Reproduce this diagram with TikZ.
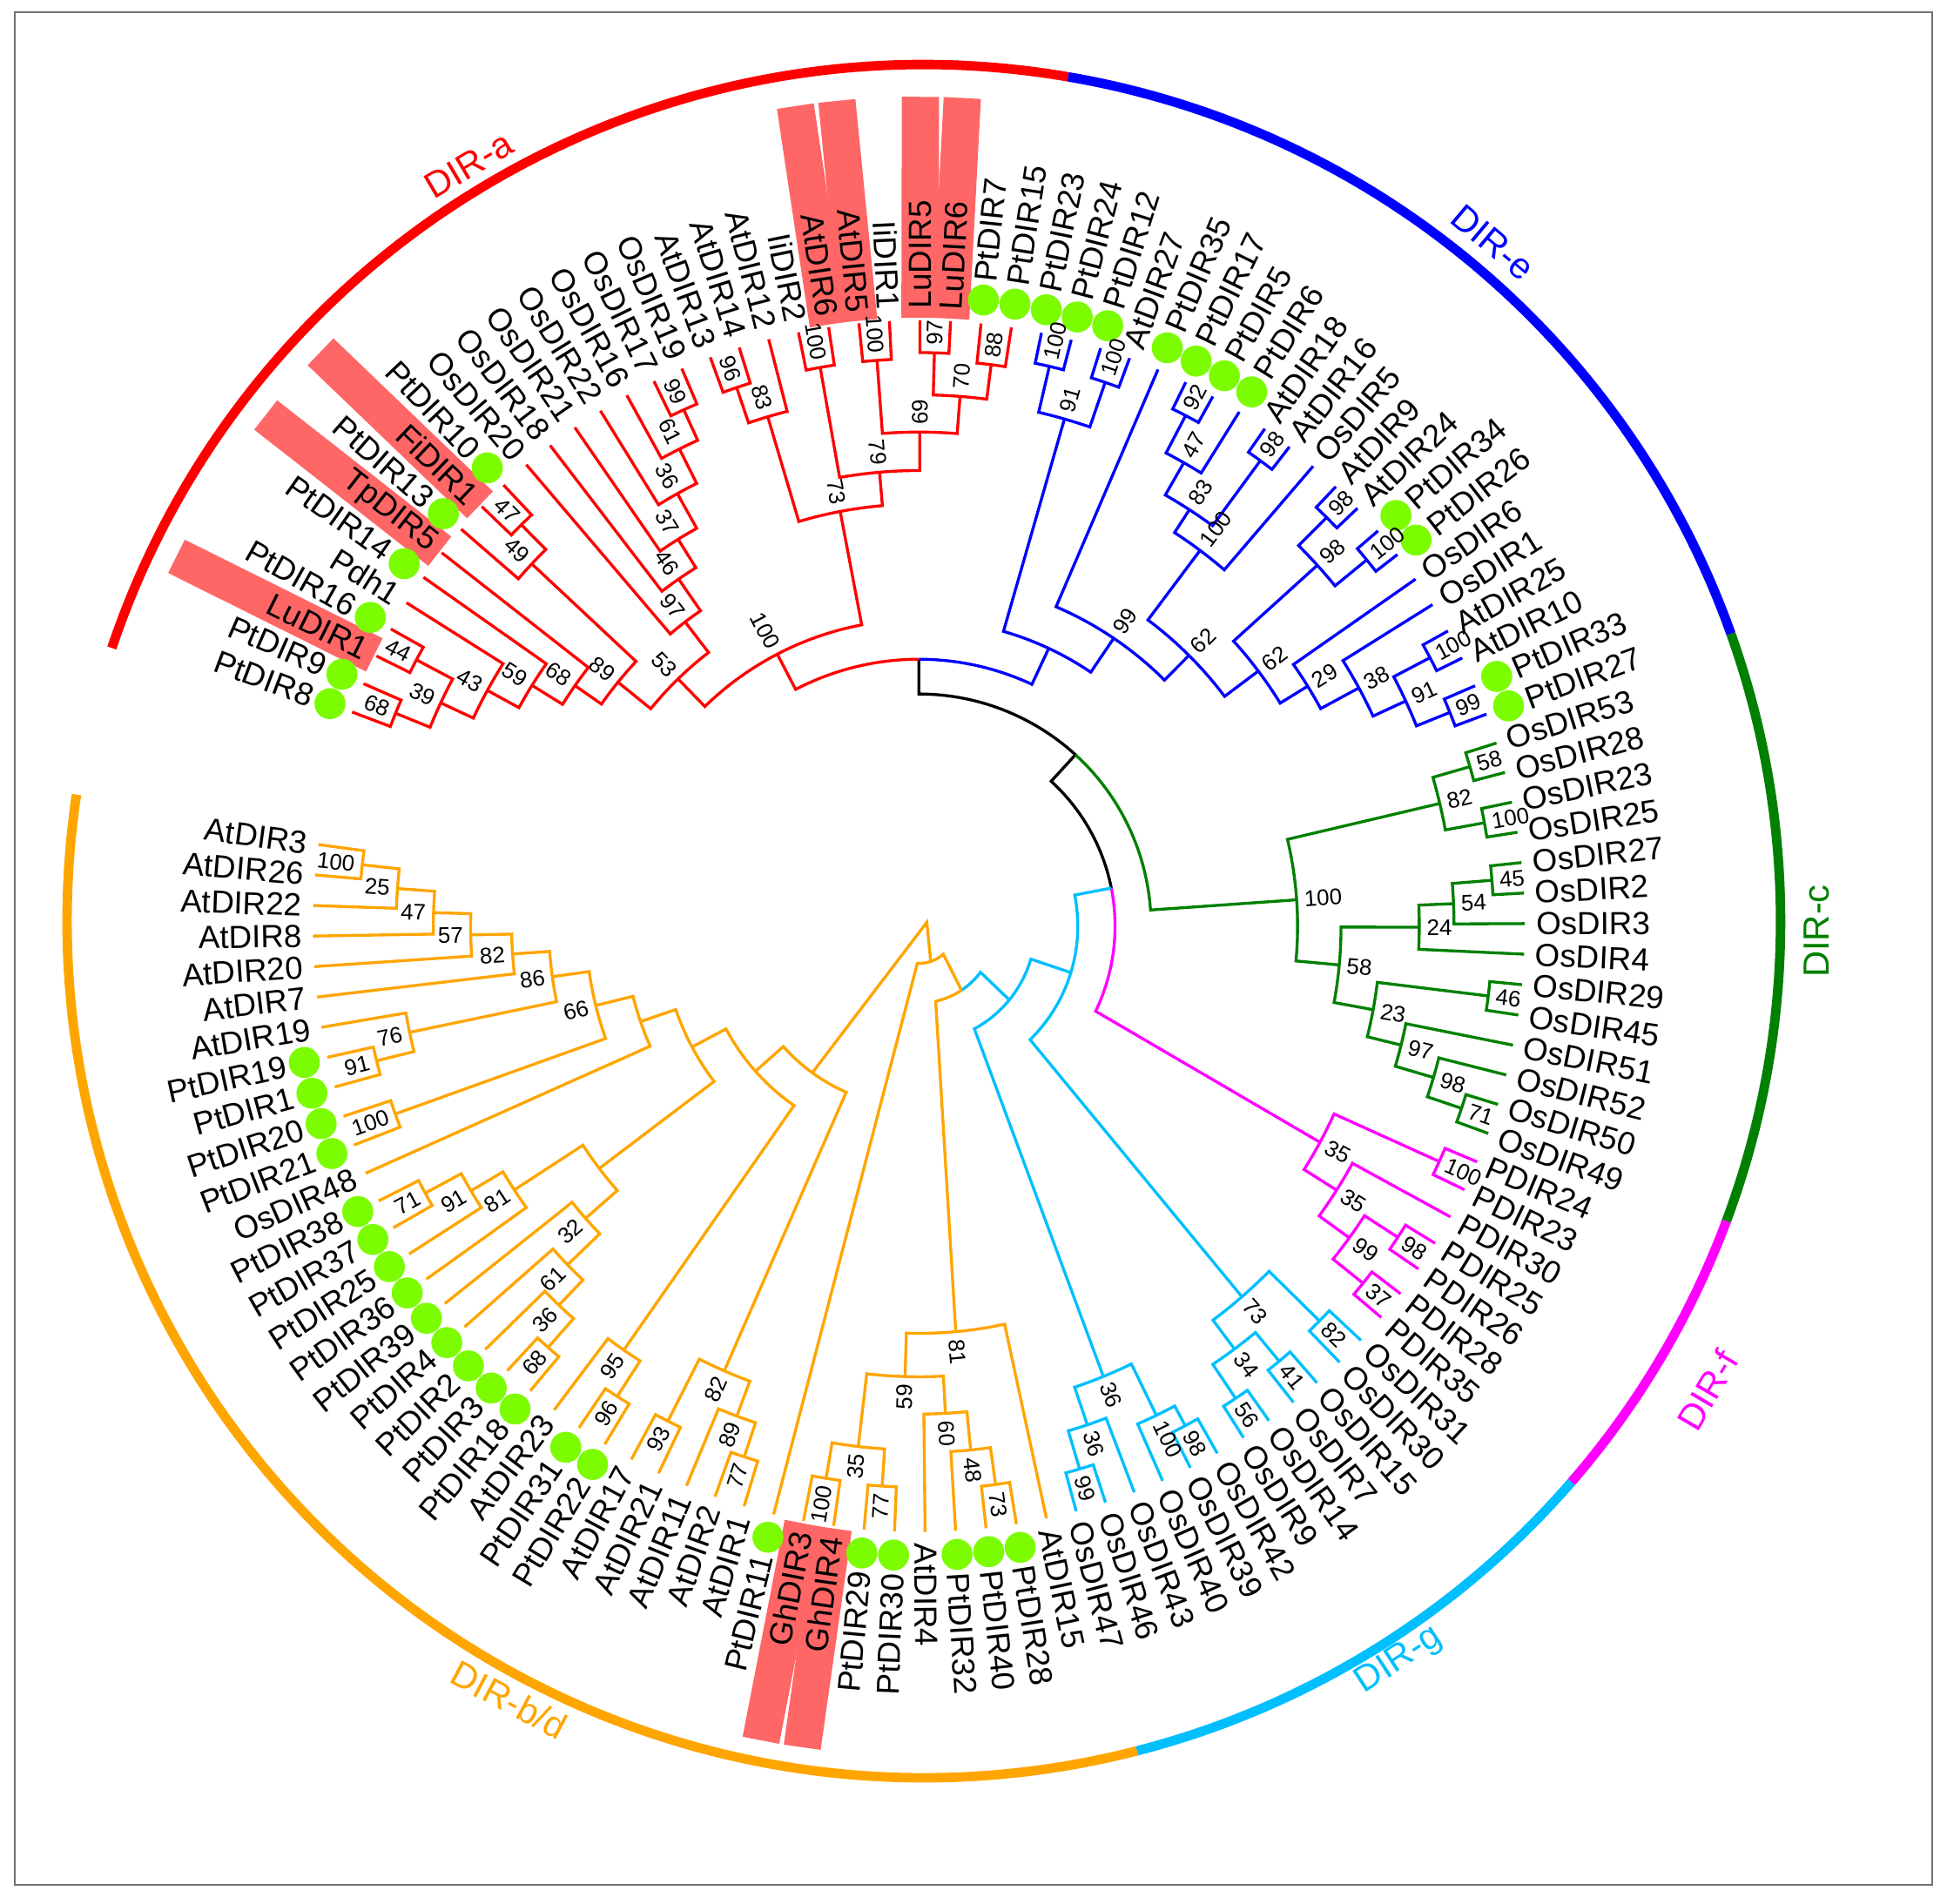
\documentclass[tikz,border=0pt]{standalone}
\usepackage{fontspec}
\setmainfont{Liberation Sans}
\definecolor{cR}{RGB}{255,0,0}
\definecolor{cB}{RGB}{0,0,255}
\definecolor{cG}{RGB}{0,128,0}
\definecolor{cM}{RGB}{255,0,255}
\definecolor{cC}{RGB}{0,191,255}
\definecolor{cO}{RGB}{255,165,0}
\definecolor{cH}{RGB}{255,102,102}
\definecolor{cD}{RGB}{124,252,0}
\newcommand\tA[1]{(159.3-(#1-1)*2.892)}
\newcommand\brk[6]{\draw[#1] ({\tA{#2}}:#3) -- ({\tA{#2}}:#6) arc[start angle={\tA{#2}},end angle={\tA{#4}},radius=#6] -- ({\tA{#4}}:#5);}
\newcounter{bsc}
\newcommand\bsR[3]{\stepcounter{bsc}\node[bs,anchor=west,rotate={\tA{#1}}] (bs\arabic{bsc}) at ({\tA{#1}}:#2) {#3};}
\newcommand\bsL[3]{\stepcounter{bsc}\node[bs,anchor=east,rotate={\tA{#1}+180}] (bs\arabic{bsc}) at ({\tA{#1}}:#2) {#3};}
\newcommand\leafR[3]{\node[lab,anchor=west,rotate={\tA{#1}}] (leaf#1) at ({\tA{#1}}:#2) {#3};}
\newcommand\leafL[3]{\node[lab,anchor=east,rotate={\tA{#1}+180}] (leaf#1) at ({\tA{#1}}:#2) {#3};}
% ring segment: colour, start angle, end angle
\newcommand\ringseg[3]{\draw[#1,ring] (#2:690) arc[start angle=#2,end angle=#3,radius=690];}
\begin{document}
\begin{tikzpicture}[x=0.03cm,y=0.03cm,line width=2pt,
  lab/.style={font=\fontsize{22}{24}\selectfont,inner sep=0pt},
  bs/.style={font=\fontsize{15.5}{17}\selectfont,inner sep=0pt},
  cl/.style={font=\fontsize{25}{28}\selectfont,inner sep=0pt},
  ring/.style={line width=6.5pt}]
\useasboundingbox (-740,-787) rectangle (828,746);
\draw[black!55,line width=1.1pt] (-728,736) rectangle (816,-772);
% outer ring (circle slightly off the tree centre)
\begin{scope}[shift={(4,4)}]
\ringseg{cR}{161.4}{80.3}
\ringseg{cB}{80.3}{19.6}
\ringseg{cG}{19.6}{-20.5}
\ringseg{cM}{-20.5}{-40.9}
\ringseg{cC}{-40.9}{-75.6}
\ringseg{cO}{-75.6}{-188.5}
\end{scope}
\node[cl,text=cR,rotate=30.6] (labA) at (-362.4,613) {DIR-a};
\node[cl,text=cB,rotate=-40] (labE) at (462.2,550.8) {DIR-e};
\node[cl,text=cG,rotate=90] (labC) at (723,-4) {DIR-c};
\node[cl,text=cM,rotate=59.5] (labF) at (635,-374) {DIR-f};
\node[cl,text=cC,rotate=33.2] (labG) at (387,-591.7) {DIR-g};
\node[cl,text=cO,rotate=-27.9] (labBD) at (-329.9,-623.1) {DIR-b/d};
% highlights
\foreach \i in {3,7,9,22,23,25,26,90,91} {\fill[cH,rotate={\tA{\i}}] (490,-15) rectangle (668,15);}
% ---------- root / inner lines
\draw[black] (90:215) -- (90:187) arc[start angle=90,end angle=47.6,radius=187] -- (47.6:158) arc[start angle=47.6,end angle=11.2,radius=158];
\draw[cR] ({\tA{15.457}}:247) -- ({\tA{15.457}}:215) arc[start angle={\tA{15.457}},end angle=90,radius=215];
\draw[cB] (90:215) arc[start angle=90,end angle={\tA{33.625}},radius=215] -- ({\tA{33.625}}:247);
\draw[cG] (47.6:187) arc[start angle=47.6,end angle={\tA{54.703}},radius=187] -- ({\tA{54.703}}:305);
\draw[cM] (11.2:158) arc[start angle=11.2,end angle=-25.7,radius=158] -- ({\tA{65.875}}:367);
\draw[cC] (11.2:158) -- (11.3:128) arc[start angle=11.3,end angle=-45.6,radius=128] -- ({\tA{73}}:396);
\draw[cC] (-17:128) -- (-16.4:94) arc[start angle=-16.4,end angle=-61.6,radius=94] -- ({\tA{79.5}}:392);
\draw[cC] (-39.2:94) -- (-36.8:62) arc[start angle=-36.8,end angle=-56.4,radius=62];
\draw[cO] (-56.4:62) arc[start angle=-56.4,end angle=-77.4,radius=62] -- ({\tA{85.40625}}:328);
\draw[cO] (-56.4:62) -- (-48.9:30) arc[start angle=-48.9,end angle=-92.4,radius=30] -- ({\tA{92}}:488);
\draw[cO] (-71:29) -- (6.4,3.1) -- ({\tA{99.65576}}:146);
% ---------- DIR-a
\brk{cR}{1}{488}{2}{488}{455}
\brk{cR}{3}{488}{4}{488}{458}
\brk{cR}{1.5}{455}{3.5}{458}{425}
\brk{cR}{2.5}{425}{5}{488}{396}
\brk{cR}{3.75}{396}{6}{488}{367}
\brk{cR}{4.875}{367}{7}{488}{338}
\brk{cR}{9}{488}{10}{488}{455}
\brk{cR}{8}{488}{9.5}{455}{427}
\brk{cR}{5.9375}{338}{8.75}{427}{312}
\brk{cR}{16}{488}{17}{488}{457}
\brk{cR}{15}{488}{16.5}{457}{430}
\brk{cR}{14}{488}{15.75}{430}{399}
\brk{cR}{13}{488}{14.875}{399}{367}
\brk{cR}{12}{488}{13.9375}{367}{340}
\brk{cR}{11}{488}{12.96875}{340}{309}
\brk{cR}{7.34375}{312}{11.984375}{309}{278}
\brk{cR}{18}{488}{19}{488}{458}
\brk{cR}{18.5}{458}{20}{488}{428}
\brk{cR}{21}{488}{22}{488}{457}
\brk{cR}{23}{488}{24}{488}{457}
\brk{cR}{25}{488}{26}{488}{462}
\brk{cR}{27}{488}{28}{488}{456}
\brk{cR}{25.5}{462}{27.5}{456}{428}
\brk{cR}{23.5}{457}{26.5}{428}{398}
\brk{cR}{21.5}{457}{25}{398}{367}
\brk{cR}{19.25}{428}{23.25}{367}{340}
\brk{cR}{9.6640625}{278}{21.25}{340}{247}
% ---------- DIR-e
\brk{cB}{29}{488}{30}{488}{463}
\brk{cB}{31}{488}{32}{488}{463}
\brk{cB}{29.5}{463}{31.5}{463}{425}
\brk{cB}{34}{488}{35}{488}{464}
\brk{cB}{34.5}{464}{36}{488}{430}
\brk{cB}{37}{488}{38}{488}{465}
\brk{cB}{35.25}{430}{37.5}{465}{400}
\brk{cB}{36.375}{400}{39}{488}{378}
\brk{cB}{40}{488}{41}{488}{465}
\brk{cB}{42}{488}{43}{488}{466}
\brk{cB}{40.5}{465}{42.5}{466}{433}
\brk{cB}{46}{488}{47}{488}{465}
\brk{cB}{48}{488}{49}{488}{461}
\brk{cB}{46.5}{465}{48.5}{461}{432}
\brk{cB}{45}{488}{47.5}{432}{403}
\brk{cB}{44}{488}{46.25}{403}{368}
\brk{cB}{41.5}{433}{45.125}{368}{342}
\brk{cB}{37.6875}{378}{43.3125}{342}{308}
\brk{cB}{33}{488}{40.5}{308}{280}
\brk{cB}{30.5}{425}{36.75}{280}{247}
% ---------- DIR-c
\brk{cG}{50}{488}{51}{488}{462}
\brk{cG}{52}{488}{53}{488}{463}
\brk{cG}{50.5}{462}{52.5}{463}{431}
\brk{cG}{54}{488}{55}{488}{463}
\brk{cG}{54.5}{463}{56}{488}{431}
\brk{cG}{55.25}{431}{57}{488}{403}
\brk{cG}{58}{488}{59}{488}{462}
\brk{cG}{62}{488}{63}{488}{461}
\brk{cG}{61}{488}{62.5}{461}{432}
\brk{cG}{60}{488}{61.75}{432}{400}
\brk{cG}{58.5}{462}{60.875}{400}{372}
\brk{cG}{56.125}{403}{59.6875}{372}{340}
\brk{cG}{51.5}{431}{57.90625}{340}{305}
% ---------- DIR-f
\brk{cM}{64}{488}{65}{488}{460}
\brk{cM}{67}{488}{68}{488}{460}
\brk{cM}{69}{488}{70}{488}{459}
\brk{cM}{67.5}{460}{69.5}{459}{428}
\brk{cM}{66}{488}{68.5}{428}{398}
\brk{cM}{64.5}{460}{67.25}{398}{367}
% ---------- DIR-g
\brk{cC}{71}{488}{72}{488}{453}
\brk{cC}{73}{488}{74}{488}{455}
\brk{cC}{75}{488}{76}{488}{458}
\brk{cC}{73.5}{455}{75.5}{458}{425}
\brk{cC}{71.5}{453}{74.5}{425}{396}
\brk{cC}{77}{488}{78}{488}{456}
\brk{cC}{77.5}{456}{79}{488}{438}
\brk{cC}{81}{488}{82}{488}{456}
\brk{cC}{80}{488}{81.5}{456}{424}
\brk{cC}{78.25}{438}{80.75}{424}{392}
% ---------- DIR-b/d
\brk{cO}{84}{488}{85}{488}{454}
\brk{cO}{84.5}{454}{86}{488}{424}
\brk{cO}{85.25}{424}{87}{488}{393}
\brk{cO}{88}{488}{89}{488}{452}
\brk{cO}{90}{488}{91}{488}{451}
\brk{cO}{88.5}{452}{90.5}{451}{422}
\brk{cO}{86.125}{393}{89.5}{422}{363}
\brk{cO}{83}{488}{87.8125}{363}{328}
\brk{cO}{93}{488}{94}{488}{450}
\brk{cO}{93.5}{450}{95}{488}{421}
\brk{cO}{96}{488}{97}{488}{447}
\brk{cO}{94.25}{421}{96.5}{447}{391}
\brk{cO}{98}{488}{99}{488}{450}
\brk{cO}{98.5}{450}{100}{488}{416}
\brk{cO}{101}{488}{102}{488}{452}
\brk{cO}{101.5}{452}{103}{488}{421}
\brk{cO}{102.25}{421}{104}{488}{393}
\brk{cO}{103.125}{393}{105}{488}{357}
\brk{cO}{108}{488}{109}{488}{452}
\brk{cO}{107}{488}{108.5}{452}{419}
\brk{cO}{106}{488}{107.75}{419}{389}
\brk{cO}{104.0625}{357}{106.875}{389}{323}
\brk{cO}{111}{488}{112}{488}{448}
\brk{cO}{113}{488}{114}{488}{450}
\brk{cO}{113.5}{450}{115}{488}{419}
\brk{cO}{120}{488}{121}{488}{451}
\brk{cO}{119}{488}{120.5}{451}{421}
\brk{cO}{118}{488}{119.75}{421}{391}
\brk{cO}{117}{488}{118.875}{391}{361}
\brk{cO}{116}{488}{117.9375}{361}{328}
\brk{cO}{114.25}{419}{116.96875}{328}{298}
\brk{cO}{111.5}{448}{115.609375}{298}{268}
\brk{cO}{110}{488}{113.5546875}{268}{237}
\brk{cO}{105.46875}{323}{111.77734375}{237}{207}
\brk{cO}{99.25}{416}{108.623046875}{207}{176}
\brk{cO}{95.375}{391}{103.9365234375}{176}{146}
% ---------- dots
\foreach \i in {1,2,4,6,8,10,27,28,29,30,31,33,34,35,36,42,43,48,49,84,85,86,88,89,92,98,99,101,102,103,104,105,106,107,108,109,111,112,113,114}
  {\fill[cD] ({\tA{\i}}:507) circle[radius=12.5];}
% ---------- bootstrap values
\bsL{1.5}{460}{68}\bsL{3.5}{463}{44}\bsL{2.5}{430}{39}\bsL{3.75}{401}{43}
\bsL{4.875}{372}{59}\bsL{5.9375}{343}{68}\bsL{9.5}{460}{47}\bsL{8.75}{432}{49}
\bsL{7.34375}{317}{89}\bsL{16.5}{462}{99}\bsL{15.75}{435}{61}\bsL{14.875}{404}{36}
\bsL{13.9375}{372}{37}\bsL{12.96875}{345}{46}\bsL{11.984375}{314}{97}\bsL{9.6640625}{283}{53}
\bsL{18.5}{463}{96}\bsL{19.25}{433}{83}\bsL{21.5}{462}{100}\bsL{23.5}{462}{100}
\bsR{25.5}{467}{97}\bsR{27.5}{461}{88}\bsR{26.5}{433}{70}\bsR{25}{403}{69}
\bsL{23.25}{372}{79}\bsL{21.25}{345}{73}\bsL{15.457}{252}{100}
\bsR{29.5}{468}{100}\bsR{31.5}{468}{100}\bsR{30.5}{430}{91}\bsR{34.5}{469}{92}
\bsR{35.25}{435}{47}\bsR{37.5}{470}{98}\bsR{36.375}{405}{83}\bsR{37.6875}{383}{100}
\bsR{40.5}{470}{98}\bsR{42.5}{471}{100}\bsR{41.5}{438}{98}\bsR{46.5}{470}{100}
\bsR{48.5}{466}{99}\bsR{47.5}{437}{91}\bsR{46.25}{408}{38}\bsR{45.125}{373}{29}
\bsR{43.3125}{347}{62}\bsR{40.5}{313}{62}\bsR{36.75}{285}{99}
\bsR{50.5}{467}{58}\bsR{52.5}{468}{100}\bsR{51.5}{436}{82}\bsR{54.5}{468}{45}
\bsR{55.25}{436}{54}\bsR{56.125}{408}{24}\bsR{58.5}{467}{46}\bsR{62.5}{466}{71}
\bsR{61.75}{437}{98}\bsR{60.875}{405}{97}\bsR{59.6875}{377}{23}\bsR{57.90625}{345}{58}
\bsR{54.703}{310}{100}
\bsR{64.5}{465}{100}\bsR{67.5}{465}{98}\bsR{69.5}{464}{37}\bsR{68.5}{433}{99}
\bsR{67.25}{403}{35}\bsR{65.875}{372}{35}
\bsR{71.5}{458}{82}\bsR{73.5}{460}{41}\bsR{75.5}{463}{56}\bsR{74.5}{430}{34}
\bsR{73}{401}{73}\bsR{77.5}{461}{98}\bsR{78.25}{443}{100}\bsR{81.5}{461}{99}
\bsR{80.75}{429}{36}\bsR{79.5}{397}{36}
\bsR{84.5}{459}{73}\bsR{85.25}{429}{48}\bsR{86.125}{398}{60}\bsL{88.5}{457}{77}
\bsL{90.5}{456}{100}\bsL{89.5}{427}{35}\bsL{87.8125}{368}{59}\bsR{85.40625}{333}{81}
\bsL{93.5}{455}{77}\bsL{94.25}{426}{89}\bsL{96.5}{452}{93}\bsL{95.375}{396}{82}
\bsL{98.5}{455}{96}\bsL{99.25}{421}{95}\bsL{101.5}{457}{68}\bsL{102.25}{426}{36}
\bsL{103.125}{398}{61}\bsL{104.0625}{362}{32}\bsL{108.5}{457}{71}\bsL{107.75}{424}{91}
\bsL{106.875}{394}{81}\bsL{111.5}{453}{100}\bsL{113.5}{455}{91}\bsL{114.25}{424}{76}
\bsL{120.5}{456}{100}\bsL{119.75}{426}{25}\bsL{118.875}{396}{47}\bsL{117.9375}{366}{57}
\bsL{116.96875}{333}{82}\bsL{115.609375}{303}{86}\bsL{113.5546875}{273}{66}
% ---------- leaf labels
\leafL{1}{521}{PtDIR8}\leafL{2}{521}{PtDIR9}\leafL{3}{496}{LuDIR1}\leafL{4}{521}{PtDIR16}
\leafL{5}{496}{Pdh1}\leafL{6}{521}{PtDIR14}\leafL{7}{496}{TpDIR5}\leafL{8}{521}{PtDIR13}
\leafL{9}{496}{FiDIR1}\leafL{10}{521}{PtDIR10}\leafL{11}{496}{OsDIR20}\leafL{12}{496}{OsDIR18}
\leafL{13}{496}{OsDIR21}\leafL{14}{496}{OsDIR22}\leafL{15}{496}{OsDIR16}\leafL{16}{496}{OsDIR17}
\leafL{17}{496}{OsDIR19}\leafL{18}{496}{AtDIR13}\leafL{19}{496}{AtDIR14}\leafL{20}{496}{AtDIR12}
\leafL{21}{496}{IiDIR2}\leafL{22}{496}{AtDIR6}\leafL{23}{496}{AtDIR5}\leafL{24}{496}{IiDIR1}
\leafR{25}{496}{LuDIR5}\leafR{26}{496}{LuDIR6}\leafR{27}{521}{PtDIR7}\leafR{28}{521}{PtDIR15}
\leafR{29}{521}{PtDIR23}\leafR{30}{521}{PtDIR24}\leafR{31}{521}{PtDIR12}\leafR{32}{496}{AtDIR27}
\leafR{33}{521}{PtDIR35}\leafR{34}{521}{PtDIR17}\leafR{35}{521}{PtDIR5}\leafR{36}{521}{PtDIR6}
\leafR{37}{496}{AtDIR18}\leafR{38}{496}{AtDIR16}\leafR{39}{496}{OsDIR5}\leafR{40}{496}{AtDIR9}
\leafR{41}{496}{AtDIR24}\leafR{42}{521}{PtDIR34}\leafR{43}{521}{PtDIR26}\leafR{44}{496}{OsDIR6}
\leafR{45}{496}{OsDIR1}\leafR{46}{496}{AtDIR25}\leafR{47}{496}{AtDIR10}\leafR{48}{521}{PtDIR33}
\leafR{49}{521}{PtDIR27}\leafR{50}{496}{OsDIR53}\leafR{51}{496}{OsDIR28}\leafR{52}{496}{OsDIR23}
\leafR{53}{496}{OsDIR25}\leafR{54}{496}{OsDIR27}\leafR{55}{496}{OsDIR2}\leafR{56}{496}{OsDIR3}
\leafR{57}{496}{OsDIR4}\leafR{58}{496}{OsDIR29}\leafR{59}{496}{OsDIR45}\leafR{60}{496}{OsDIR51}
\leafR{61}{496}{OsDIR52}\leafR{62}{496}{OsDIR50}\leafR{63}{496}{OsDIR49}\leafR{64}{496}{PDIR24}
\leafR{65}{496}{PDIR23}\leafR{66}{496}{PDIR30}\leafR{67}{496}{PDIR25}\leafR{68}{496}{PDIR26}
\leafR{69}{496}{PDIR28}\leafR{70}{496}{PDIR35}\leafR{71}{496}{OsDIR31}\leafR{72}{496}{OsDIR30}
\leafR{73}{496}{OsDIR15}\leafR{74}{496}{OsDIR7}\leafR{75}{496}{OsDIR14}\leafR{76}{496}{OsDIR9}
\leafR{77}{496}{OsDIR42}\leafR{78}{496}{OsDIR39}\leafR{79}{496}{OsDIR40}\leafR{80}{496}{OsDIR43}
\leafR{81}{496}{OsDIR46}\leafR{82}{496}{OsDIR47}\leafR{83}{496}{AtDIR15}\leafR{84}{521}{PtDIR28}
\leafR{85}{521}{PtDIR40}\leafR{86}{521}{PtDIR32}\leafR{87}{496}{AtDIR4}\leafL{88}{521}{PtDIR30}
\leafL{89}{521}{PtDIR29}\leafL{90}{496}{GhDIR4}\leafL{91}{496}{GhDIR3}\leafL{92}{521}{PtDIR11}
\leafL{93}{496}{AtDIR1}\leafL{94}{496}{AtDIR2}\leafL{95}{496}{AtDIR11}\leafL{96}{496}{AtDIR21}
\leafL{97}{496}{AtDIR17}\leafL{98}{521}{PtDIR22}\leafL{99}{521}{PtDIR31}\leafL{100}{496}{AtDIR23}
\leafL{101}{521}{PtDIR18}\leafL{102}{521}{PtDIR3}\leafL{103}{521}{PtDIR2}\leafL{104}{521}{PtDIR4}
\leafL{105}{521}{PtDIR39}\leafL{106}{521}{PtDIR36}\leafL{107}{521}{PtDIR25}\leafL{108}{521}{PtDIR37}
\leafL{109}{521}{PtDIR38}\leafL{110}{496}{OsDIR48}\leafL{111}{521}{PtDIR21}\leafL{112}{521}{PtDIR20}
\leafL{113}{521}{PtDIR1}\leafL{114}{521}{PtDIR19}\leafL{115}{496}{AtDIR19}\leafL{116}{496}{AtDIR7}
\leafL{117}{496}{AtDIR20}\leafL{118}{496}{AtDIR8}\leafL{119}{496}{AtDIR22}\leafL{120}{496}{AtDIR26}
\leafL{121}{496}{AtDIR3}
\end{tikzpicture}
\end{document}
